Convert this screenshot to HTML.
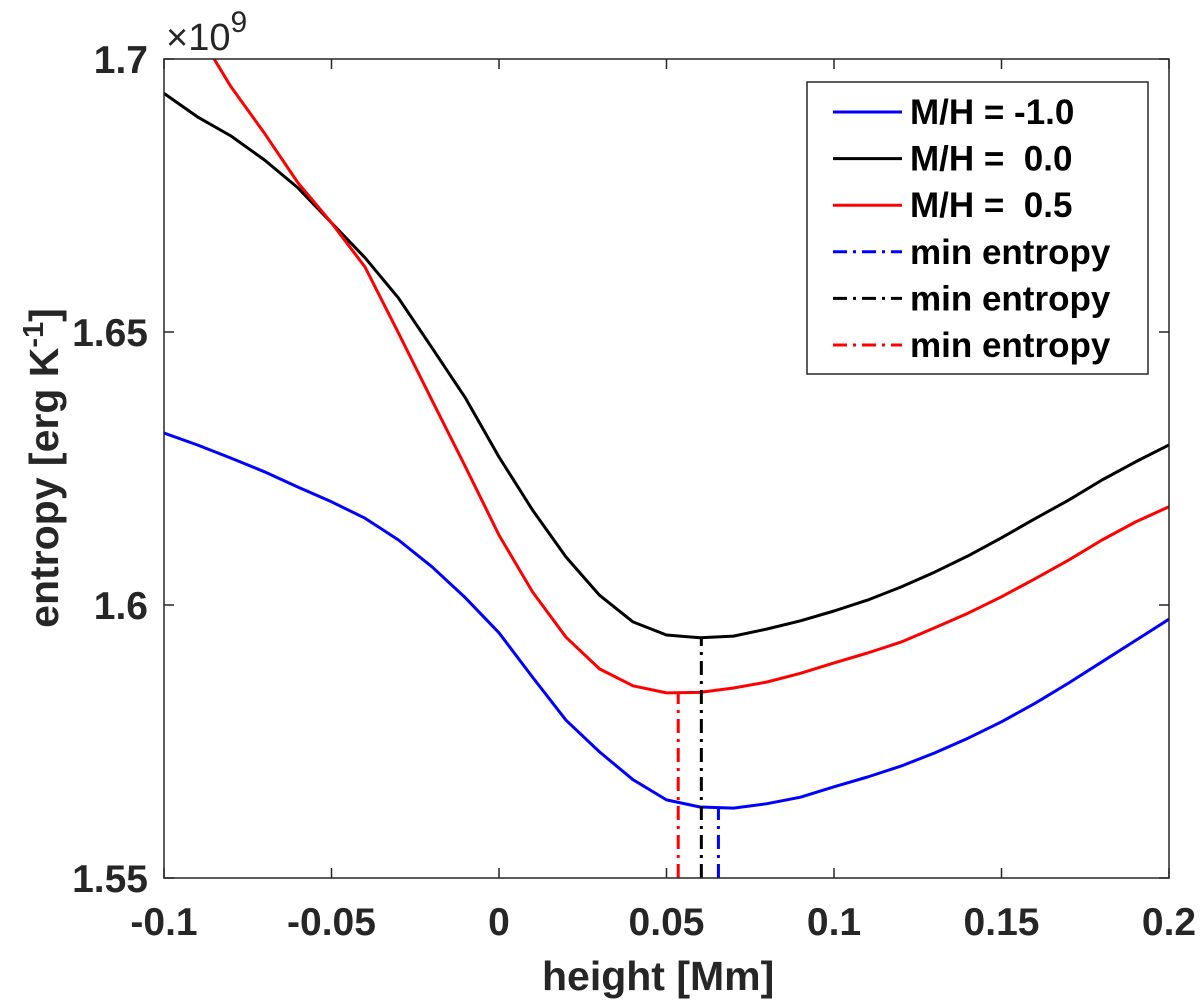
<!DOCTYPE html>
<html><head><meta charset="utf-8"><style>
html,body{margin:0;padding:0;background:#fff;}
svg{display:block;font-family:"Liberation Sans",sans-serif;font-weight:bold;}
</style></head><body>
<svg id="chart" width="1200" height="1005" viewBox="0 0 1200 1005" xmlns="http://www.w3.org/2000/svg"></svg>
<script>
const heights = [-0.1,-0.09,-0.08,-0.07,-0.06,-0.05,-0.04,-0.03,-0.02,-0.01,0,0.01,0.02,0.03,0.04,0.05,0.06,0.07,0.08,0.09,0.1,0.11,0.12,0.13,0.14,0.15,0.16,0.17,0.18,0.19,0.2];
const entropyMinus10 = [1.6315,1.6293,1.6269,1.6244,1.6216,1.6189,1.6159,1.6119,1.6070,1.6013,1.5949,1.5868,1.5789,1.5731,1.5680,1.5643,1.5630,1.5628,1.5636,1.5648,1.5667,1.5685,1.5705,1.5729,1.5756,1.5786,1.5820,1.5857,1.5896,1.5935,1.5974];
const entropy00 = [1.6937,1.6894,1.6859,1.6815,1.6764,1.6700,1.6636,1.6562,1.6471,1.6379,1.6271,1.6174,1.6088,1.6018,1.5969,1.5945,1.5940,1.5943,1.5956,1.5971,1.5989,1.6009,1.6033,1.6060,1.6090,1.6123,1.6158,1.6192,1.6229,1.6262,1.6293];
const entropy05 = [1.7120,1.7050,1.6949,1.6864,1.6773,1.6700,1.6619,1.6498,1.6375,1.6253,1.6128,1.6024,1.5941,1.5883,1.5852,1.5839,1.5840,1.5848,1.5859,1.5875,1.5894,1.5912,1.5932,1.5958,1.5985,1.6015,1.6048,1.6082,1.6119,1.6152,1.6180];
const minHeights = [0.0655,0.0604,0.0535];
const minEntropies = [1.5628,1.5940,1.5839];
const xTicks = [-0.1,-0.05,0,0.05,0.1,0.15,0.2];
const xTickLabels = ["-0.1","-0.05","0","0.05","0.1","0.15","0.2"];
const yTicks = [1.55,1.6,1.65,1.7];
const yTickLabels = ["1.55","1.6","1.65","1.7"];
const legendLabels = ["M/H = -1.0","M/H =  0.0","M/H =  0.5","min entropy","min entropy","min entropy"];

const L=164,R=1169,T=59,B=878;
const xMin=-0.1,xMax=0.2,yMin=1.55,yMax=1.7;
function sx(v){return L+(v-xMin)/(xMax-xMin)*(R-L);}
function sy(v){return B-(v-yMin)/(yMax-yMin)*(B-T);}
const NS="http://www.w3.org/2000/svg";
const svg=document.getElementById('chart');
function mk(tag,attrs,parent){const e=document.createElementNS(NS,tag);for(const k in attrs)e.setAttribute(k,attrs[k]);(parent||svg).appendChild(e);return e;}

const defs=mk('defs',{});
const cp=mk('clipPath',{id:'plotclip'},defs);
mk('rect',{x:L,y:T,width:R-L,height:B-T},cp);

const plotBg=mk('rect',{x:L,y:T,width:R-L,height:B-T,fill:'#fff'});



const series=[{d:entropyMinus10,c:'#0000ff',n:'line-mh-minus-1'},{d:entropy00,c:'#000000',n:'line-mh-0'},{d:entropy05,c:'#ff0000',n:'line-mh-0-5'}];
const g=mk('g',{'clip-path':'url(#plotclip)'});
series.forEach(s=>{
  const pts=heights.map((h,i)=>sx(h).toFixed(1)+','+sy(s.d[i]).toFixed(1)).join(' ');
  const p=mk('polyline',{points:pts,fill:'none',stroke:s.c,'stroke-width':3,'stroke-linejoin':'round'},g);
  
  
});
const minColors=['#0000ff','#000000','#ff0000'];
const minNames=['min-line-mh-minus-1','min-line-mh-0','min-line-mh-0-5'];
minHeights.forEach((h,i)=>{
  const l=mk('line',{x1:sx(h),x2:sx(h),y1:B,y2:sy(minEntropies[i]),stroke:minColors[i],'stroke-width':3,'stroke-dasharray':'14 6 3 6'},g);
  
  
});

const ax=mk('rect',{x:L,y:T,width:R-L,height:B-T,fill:'none',stroke:'#262626','stroke-width':1.5});



xTicks.forEach((v,i)=>{
  const x=sx(v);
  mk('line',{x1:x,x2:x,y1:B,y2:B-10,stroke:'#262626','stroke-width':1.5});
  mk('line',{x1:x,x2:x,y1:T,y2:T+10,stroke:'#262626','stroke-width':1.5});
  const t=mk('text',{x:x,y:935,'text-anchor':'middle','font-size':39,fill:'#262626'});
  t.textContent=xTickLabels[i];
  
  
});
yTicks.forEach((v,i)=>{
  const y=sy(v);
  mk('line',{x1:L,x2:L+10,y1:y,y2:y,stroke:'#262626','stroke-width':1.5});
  mk('line',{x1:R,x2:R-10,y1:y,y2:y,stroke:'#262626','stroke-width':1.5});
  const t=mk('text',{x:148,y:y+14,'text-anchor':'end','font-size':39,fill:'#262626'});
  t.textContent=yTickLabels[i];
  
  
});

const exp=mk('text',{x:166,y:50,'font-size':38,fill:'#262626','font-weight':'normal'});
exp.textContent='×10';


const sup=mk('tspan',{dy:-18,'font-size':30},exp);
sup.textContent='9';

const xl=mk('text',{x:sx(0.0475),y:990,'text-anchor':'middle','font-size':41,fill:'#262626'});
xl.textContent='height [Mm]';



const yl=mk('text',{x:0,y:0,'text-anchor':'middle','font-size':41,fill:'#262626',transform:'translate(58,468) rotate(-90)'});


yl.appendChild(document.createTextNode('entropy [erg K'));
const ys=mk('tspan',{dy:-15,'font-size':29},yl);ys.textContent='-1';
const yc=mk('tspan',{dy:15},yl);yc.textContent=']';

const lg=mk('g',{});


mk('rect',{x:807,y:82,width:341,height:292,fill:'#fff',stroke:'#262626','stroke-width':1.5},lg);
const legColors=['#0000ff','#000000','#ff0000','#0000ff','#000000','#ff0000'];
legendLabels.forEach((lab,i)=>{
  const y=112+i*46.6;
  const ln=mk('line',{x1:833,x2:902,y1:y,y2:y,stroke:legColors[i],'stroke-width':3},lg);
  if(i>=3)ln.setAttribute('stroke-dasharray','14 6 3 6');
  
  
  const t=mk('text',{x:910,y:y+12,'font-size':35,fill:'#000'},lg);
  t.style.whiteSpace='pre';
  t.textContent=lab;
  
  
});
</script>
</body></html>
